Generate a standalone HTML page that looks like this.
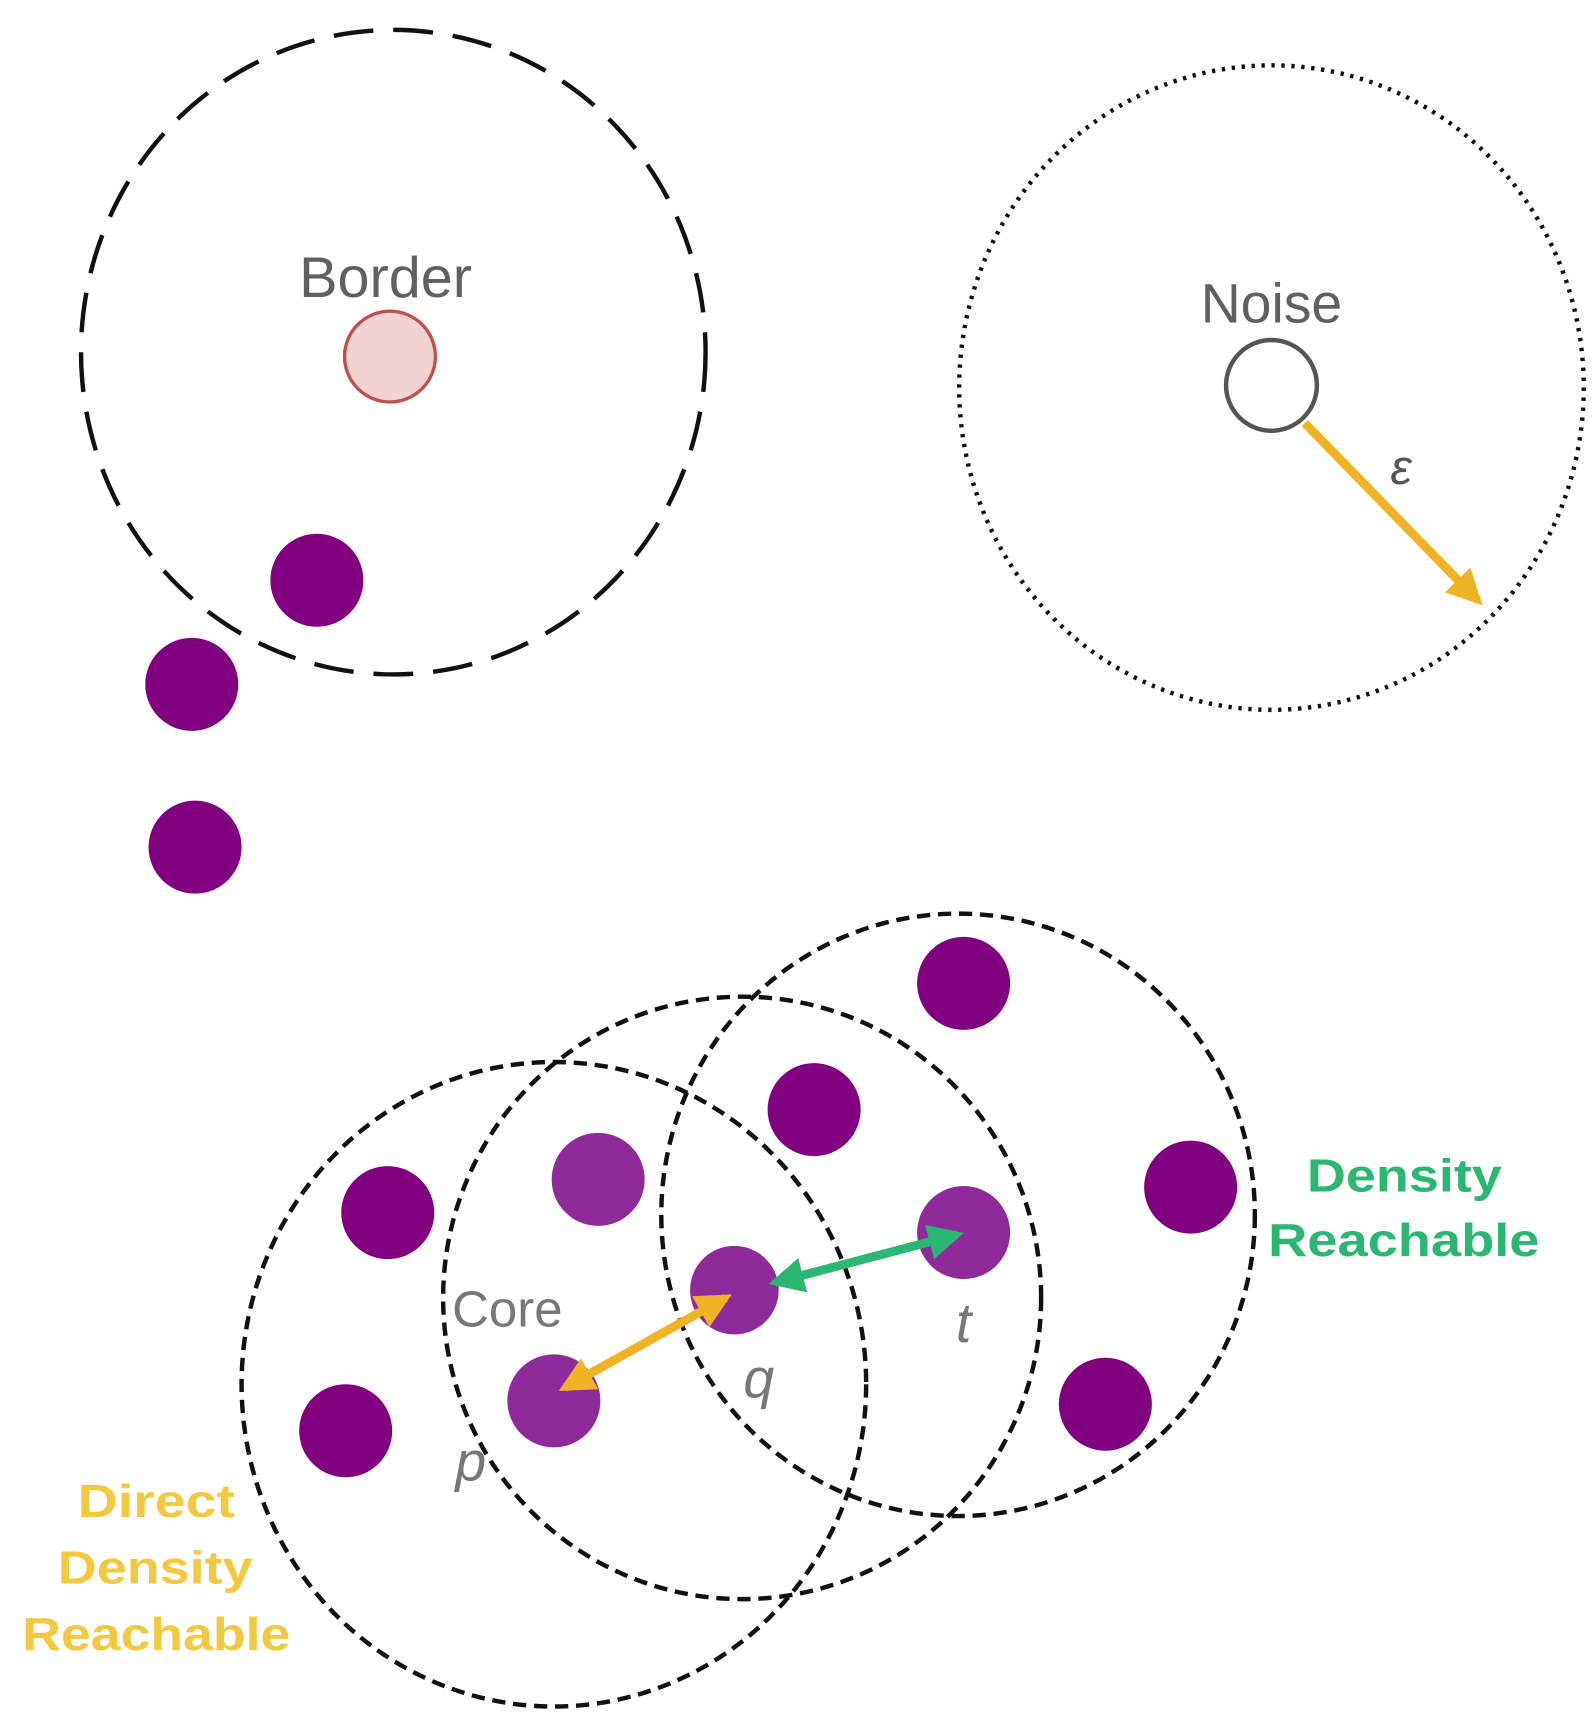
<!DOCTYPE html>
<html><head><meta charset="utf-8"><style>html,body{margin:0;padding:0;background:#fff}svg{display:block}</style></head>
<body>
<svg width="1595" height="1732" viewBox="0 0 1440 1564" xmlns="http://www.w3.org/2000/svg" font-family="Liberation Sans, sans-serif">
<defs>
<marker id="ay" viewBox="0 0 10 10" refX="8" refY="5" markerWidth="4" markerHeight="4" orient="auto-start-reverse"><path d="M0,0 L10,5 L0,10 z" fill="#f0b323"/></marker>
<marker id="ag" viewBox="0 0 10 10" refX="8" refY="5" markerWidth="4" markerHeight="4" orient="auto-start-reverse"><path d="M0,0 L10,5 L0,10 z" fill="#2bb673"/></marker>
</defs>
<ellipse cx="355" cy="318" rx="282" ry="291" fill="none" stroke="#111" stroke-width="4" stroke-dasharray="36 18"/>
<text x="348" y="268" font-size="52" fill="#606060" text-anchor="middle">Border</text>
<circle cx="352" cy="322" r="41" fill="#f2d3d3" stroke="#c0504d" stroke-width="3"/>
<ellipse cx="1148" cy="350" rx="282" ry="291" fill="none" stroke="#111" stroke-width="4" stroke-dasharray="3 6"/>
<text x="1148" y="291" font-size="50" fill="#606060" text-anchor="middle">Noise</text>
<circle cx="1148" cy="348" r="41" fill="#fff" stroke="#555" stroke-width="4"/>
<line x1="1178" y1="382" x2="1334" y2="542" stroke="#f0b323" stroke-width="8" marker-end="url(#ay)"/>
<text x="1265" y="437" font-size="44" fill="#555" font-style="italic" text-anchor="middle">ε</text>
<g fill="#800080">
<circle cx="286" cy="524" r="42"/><circle cx="173" cy="618" r="42"/><circle cx="176" cy="765" r="42"/>
<circle cx="870" cy="888" r="42"/><circle cx="735" cy="1002" r="42"/><circle cx="350" cy="1095" r="42"/>
<circle cx="1075" cy="1072" r="42"/><circle cx="312" cy="1292" r="42"/><circle cx="998" cy="1268" r="42"/>
</g>
<g fill="#8e2a9a">
<circle cx="540" cy="1065" r="42"/><circle cx="870" cy="1113" r="42"/><circle cx="663" cy="1165" r="40"/><circle cx="500" cy="1265" r="42"/>
</g>
<g fill="none" stroke="#111" stroke-width="4" stroke-dasharray="12 7">
<ellipse cx="500" cy="1250" rx="282" ry="291"/>
<ellipse cx="670" cy="1172" rx="270" ry="272"/>
<ellipse cx="865" cy="1097" rx="268" ry="272"/>
</g>
<line x1="700" y1="1158" x2="864" y2="1115" stroke="#2bb673" stroke-width="8" marker-start="url(#ag)" marker-end="url(#ag)"/>
<line x1="510" y1="1253" x2="655" y2="1172" stroke="#f0b323" stroke-width="8" marker-start="url(#ay)" marker-end="url(#ay)"/>
<text x="458" y="1198" font-size="46" fill="#777" text-anchor="middle">Core</text>
<text x="685" y="1262" font-size="50" fill="#777" font-style="italic" text-anchor="middle">q</text>
<text x="870" y="1212" font-size="50" fill="#777" font-style="italic" text-anchor="middle">t</text>
<text x="425" y="1337" font-size="50" fill="#777" font-style="italic" text-anchor="middle">p</text>
<g font-size="42" font-weight="bold" fill="#2bb673">
<text x="1180" y="1076" textLength="176" lengthAdjust="spacingAndGlyphs">Density</text><text x="1145" y="1134" textLength="245" lengthAdjust="spacingAndGlyphs">Reachable</text></g>
<g font-size="42" font-weight="bold" fill="#f5c842">
<text x="70" y="1370" textLength="142" lengthAdjust="spacingAndGlyphs">Direct</text><text x="52" y="1430" textLength="176" lengthAdjust="spacingAndGlyphs">Density</text><text x="20" y="1490" textLength="242" lengthAdjust="spacingAndGlyphs">Reachable</text></g>
</svg>
</body></html>
